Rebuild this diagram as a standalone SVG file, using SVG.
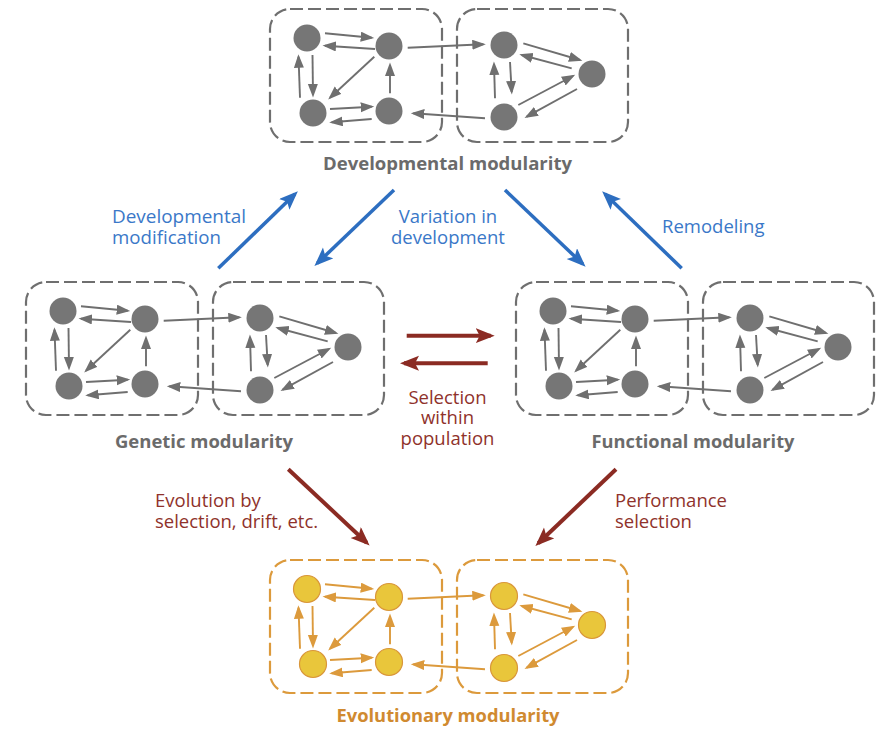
<svg xmlns="http://www.w3.org/2000/svg" width="885" height="729" viewBox="0 0 885 729">
<style>
  .box{fill:none;stroke-width:2.2;stroke-dasharray:13 5}
  .gray .box{stroke:#6f6f6f}
  .gray circle{fill:#767676}
  .gray line{stroke:#6f6f6f;stroke-width:1.9;marker-end:url(#ah-g)}
  .orng .box{stroke:#dc9a3c}
  .orng circle{fill:#e9c63b;stroke:#d9963a;stroke-width:1.2}
  .orng line{stroke:#dc9a3c;stroke-width:1.9;marker-end:url(#ah-o)}
  .title{font-family:"Open Sans","Liberation Sans",sans-serif;font-weight:700;font-size:18px;text-anchor:middle}
  .gray .title{fill:#6b6b6b}
  .orng .title{fill:#d08a30}
  .lbl{font-family:"Open Sans","Liberation Sans",sans-serif;font-size:18.5px}
  .blue{fill:#3a78c8}
  .red{fill:#8f322b}
  .ba{stroke:#2d6ec0;stroke-width:3.5;fill:none;marker-end:url(#ah-b)}
  .ra{stroke:#8b2b23;stroke-width:4;fill:none;marker-end:url(#ah-r)}
</style>
<defs>
  <marker id="ah-g" markerUnits="userSpaceOnUse" markerWidth="16" markerHeight="12" refX="11" refY="5" orient="auto"><path d="M0,0 L13.5,5 L0,10 z" fill="#6f6f6f"/></marker>
  <marker id="ah-o" markerUnits="userSpaceOnUse" markerWidth="16" markerHeight="12" refX="11" refY="5" orient="auto"><path d="M0,0 L13.5,5 L0,10 z" fill="#dc9a3c"/></marker>
  <marker id="ah-b" markerUnits="userSpaceOnUse" markerWidth="20" markerHeight="16" refX="15" refY="7.5" orient="auto"><path d="M0,0 L19,7.5 L0,15 L4,7.5 z" fill="#2d6ec0"/></marker>
  <marker id="ah-r" markerUnits="userSpaceOnUse" markerWidth="20" markerHeight="16" refX="15" refY="7.5" orient="auto"><path d="M0,0 L19,7.5 L0,15 L4,7.5 z" fill="#8b2b23"/></marker>
</defs>
<rect width="885" height="729" fill="#ffffff"/>

<g id="developmental-modularity" class="gray">
  <rect class="box" x="270" y="9" width="172" height="133" rx="20"/>
  <rect class="box" x="457" y="9" width="171" height="133" rx="20"/>
  <line x1="325" y1="33.3" x2="371.7" y2="37.7"/>
  <line x1="375" y1="49" x2="325" y2="45.7"/>
  <line x1="312.5" y1="55" x2="313" y2="95"/>
  <line x1="300" y1="97.7" x2="298.5" y2="56.7"/>
  <line x1="374.3" y1="56.7" x2="330" y2="97.7"/>
  <line x1="330" y1="109" x2="371.7" y2="106.7"/>
  <line x1="371.7" y1="119" x2="331.7" y2="122.3"/>
  <line x1="390" y1="93.3" x2="390" y2="65"/>
  <line x1="407.7" y1="47.7" x2="483.3" y2="44.3"/>
  <line x1="523.3" y1="43.3" x2="580" y2="60"/>
  <line x1="571.7" y1="68.3" x2="521.7" y2="55"/>
  <line x1="510" y1="62" x2="511.7" y2="92"/>
  <line x1="495" y1="98.3" x2="494" y2="64"/>
  <line x1="518.3" y1="105" x2="573" y2="76"/>
  <line x1="577" y1="89" x2="526.7" y2="116.7"/>
  <line x1="485" y1="118.3" x2="413.3" y2="113.3"/>
  <circle cx="307" cy="38" r="13.5"/>
  <circle cx="389" cy="46" r="13.5"/>
  <circle cx="313" cy="113" r="13.5"/>
  <circle cx="389" cy="111" r="13.5"/>
  <circle cx="504" cy="45" r="13.5"/>
  <circle cx="592" cy="74" r="13.5"/>
  <circle cx="504" cy="117" r="13.5"/>
  <text class="title" x="447.5" y="169.5" textLength="249" lengthAdjust="spacingAndGlyphs">Developmental modularity</text>
</g>

<g id="genetic-modularity" class="gray" transform="translate(-244,273)">
  <rect class="box" x="270" y="9" width="172" height="133" rx="20"/>
  <rect class="box" x="457" y="9" width="171" height="133" rx="20"/>
  <line x1="325" y1="33.3" x2="371.7" y2="37.7"/>
  <line x1="375" y1="49" x2="325" y2="45.7"/>
  <line x1="312.5" y1="55" x2="313" y2="95"/>
  <line x1="300" y1="97.7" x2="298.5" y2="56.7"/>
  <line x1="374.3" y1="56.7" x2="330" y2="97.7"/>
  <line x1="330" y1="109" x2="371.7" y2="106.7"/>
  <line x1="371.7" y1="119" x2="331.7" y2="122.3"/>
  <line x1="390" y1="93.3" x2="390" y2="65"/>
  <line x1="407.7" y1="47.7" x2="483.3" y2="44.3"/>
  <line x1="523.3" y1="43.3" x2="580" y2="60"/>
  <line x1="571.7" y1="68.3" x2="521.7" y2="55"/>
  <line x1="510" y1="62" x2="511.7" y2="92"/>
  <line x1="495" y1="98.3" x2="494" y2="64"/>
  <line x1="518.3" y1="105" x2="573" y2="76"/>
  <line x1="577" y1="89" x2="526.7" y2="116.7"/>
  <line x1="485" y1="118.3" x2="413.3" y2="113.3"/>
  <circle cx="307" cy="38" r="13.5"/>
  <circle cx="389" cy="46" r="13.5"/>
  <circle cx="313" cy="113" r="13.5"/>
  <circle cx="389" cy="111" r="13.5"/>
  <circle cx="504" cy="45" r="13.5"/>
  <circle cx="592" cy="74" r="13.5"/>
  <circle cx="504" cy="117" r="13.5"/>
  <text class="title" x="448" y="174.5" textLength="178" lengthAdjust="spacingAndGlyphs">Genetic modularity</text>
</g>

<g id="functional-modularity" class="gray" transform="translate(246,273)">
  <rect class="box" x="270" y="9" width="172" height="133" rx="20"/>
  <rect class="box" x="457" y="9" width="171" height="133" rx="20"/>
  <line x1="325" y1="33.3" x2="371.7" y2="37.7"/>
  <line x1="375" y1="49" x2="325" y2="45.7"/>
  <line x1="312.5" y1="55" x2="313" y2="95"/>
  <line x1="300" y1="97.7" x2="298.5" y2="56.7"/>
  <line x1="374.3" y1="56.7" x2="330" y2="97.7"/>
  <line x1="330" y1="109" x2="371.7" y2="106.7"/>
  <line x1="371.7" y1="119" x2="331.7" y2="122.3"/>
  <line x1="390" y1="93.3" x2="390" y2="65"/>
  <line x1="407.7" y1="47.7" x2="483.3" y2="44.3"/>
  <line x1="523.3" y1="43.3" x2="580" y2="60"/>
  <line x1="571.7" y1="68.3" x2="521.7" y2="55"/>
  <line x1="510" y1="62" x2="511.7" y2="92"/>
  <line x1="495" y1="98.3" x2="494" y2="64"/>
  <line x1="518.3" y1="105" x2="573" y2="76"/>
  <line x1="577" y1="89" x2="526.7" y2="116.7"/>
  <line x1="485" y1="118.3" x2="413.3" y2="113.3"/>
  <circle cx="307" cy="38" r="13.5"/>
  <circle cx="389" cy="46" r="13.5"/>
  <circle cx="313" cy="113" r="13.5"/>
  <circle cx="389" cy="111" r="13.5"/>
  <circle cx="504" cy="45" r="13.5"/>
  <circle cx="592" cy="74" r="13.5"/>
  <circle cx="504" cy="117" r="13.5"/>
  <text class="title" x="447" y="174.5" textLength="203" lengthAdjust="spacingAndGlyphs">Functional modularity</text>
</g>

<g id="evolutionary-modularity" class="orng" transform="translate(0,551)">
  <rect class="box" x="270" y="9" width="172" height="133" rx="20"/>
  <rect class="box" x="457" y="9" width="171" height="133" rx="20"/>
  <line x1="325" y1="33.3" x2="371.7" y2="37.7"/>
  <line x1="375" y1="49" x2="325" y2="45.7"/>
  <line x1="312.5" y1="55" x2="313" y2="95"/>
  <line x1="300" y1="97.7" x2="298.5" y2="56.7"/>
  <line x1="374.3" y1="56.7" x2="330" y2="97.7"/>
  <line x1="330" y1="109" x2="371.7" y2="106.7"/>
  <line x1="371.7" y1="119" x2="331.7" y2="122.3"/>
  <line x1="390" y1="93.3" x2="390" y2="65"/>
  <line x1="407.7" y1="47.7" x2="483.3" y2="44.3"/>
  <line x1="523.3" y1="43.3" x2="580" y2="60"/>
  <line x1="571.7" y1="68.3" x2="521.7" y2="55"/>
  <line x1="510" y1="62" x2="511.7" y2="92"/>
  <line x1="495" y1="98.3" x2="494" y2="64"/>
  <line x1="518.3" y1="105" x2="573" y2="76"/>
  <line x1="577" y1="89" x2="526.7" y2="116.7"/>
  <line x1="485" y1="118.3" x2="413.3" y2="113.3"/>
  <circle cx="307" cy="38" r="13.5"/>
  <circle cx="389" cy="46" r="13.5"/>
  <circle cx="313" cy="113" r="13.5"/>
  <circle cx="389" cy="111" r="13.5"/>
  <circle cx="504" cy="45" r="13.5"/>
  <circle cx="592" cy="74" r="13.5"/>
  <circle cx="504" cy="117" r="13.5"/>
  <text class="title" x="448" y="170.5" textLength="223" lengthAdjust="spacingAndGlyphs">Evolutionary modularity</text>
</g>

<g id="connectors">
  <line class="ba" x1="218.3" y1="268.3" x2="295" y2="194"/>
  <line class="ba" x1="394" y1="190" x2="317.3" y2="263.3"/>
  <line class="ba" x1="505" y1="190" x2="582.7" y2="264"/>
  <line class="ba" x1="681.7" y1="268.3" x2="605" y2="194"/>
  <line class="ra" x1="406.7" y1="335.7" x2="490.7" y2="335.7"/>
  <line class="ra" x1="487.7" y1="363.3" x2="404" y2="363.3"/>
  <line class="ra" x1="288.3" y1="469.3" x2="366.7" y2="542.7"/>
  <line class="ra" x1="616" y1="469.3" x2="538.3" y2="543.3"/>
</g>

<g id="labels" class="lbl">
  <text class="blue" x="112" y="222.5" textLength="134" lengthAdjust="spacingAndGlyphs">Developmental</text>
  <text class="blue" x="112" y="244" textLength="109" lengthAdjust="spacingAndGlyphs">modification</text>
  <text class="blue" x="448" y="222.5" text-anchor="middle">Variation in</text>
  <text class="blue" x="448" y="244" text-anchor="middle">development</text>
  <text class="blue" x="662" y="233">Remodeling</text>
  <text class="red" x="447.5" y="403.5" text-anchor="middle">Selection</text>
  <text class="red" x="447.5" y="424" text-anchor="middle">within</text>
  <text class="red" x="447.5" y="444.5" text-anchor="middle">population</text>
  <text class="red" x="155" y="506.5">Evolution by</text>
  <text class="red" x="155" y="528">selection, drift, etc.</text>
  <text class="red" x="615" y="506.5">Performance</text>
  <text class="red" x="615" y="528">selection</text>
</g>
</svg>
